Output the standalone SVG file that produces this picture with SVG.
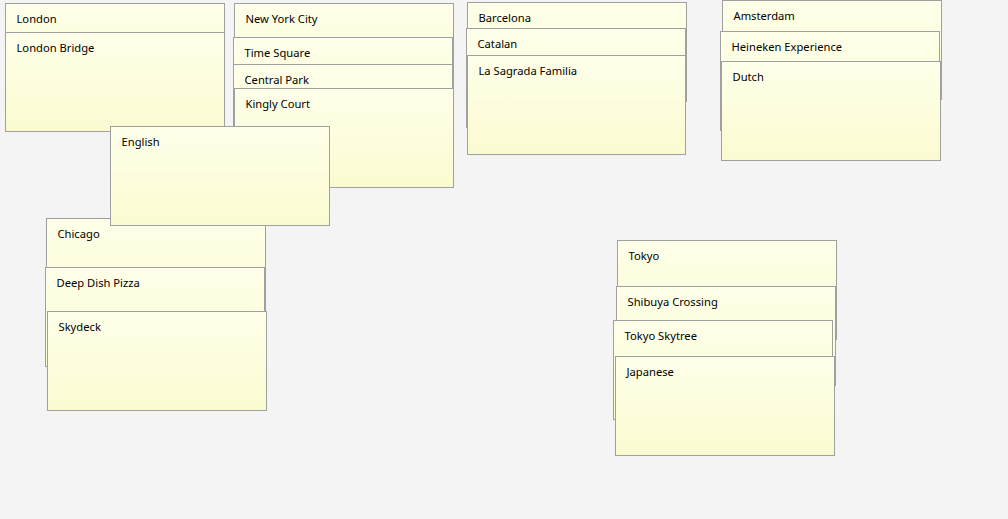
<svg xmlns="http://www.w3.org/2000/svg" width="1008" height="519" viewBox="0 0 1008 519">
<defs>
<linearGradient id="paper" x1="0" y1="0" x2="0" y2="1">
<stop offset="0" stop-color="#FFFFEA"/>
<stop offset="1" stop-color="#FBFBD1"/>
</linearGradient>
<style>
.n{fill:url(#paper);stroke:#A0A0A0;stroke-width:1}
.t{font-family:"Noto Sans","Open Sans","DejaVu Sans",sans-serif;font-size:11.2px;fill:#000}
</style>
</defs>
<rect width="1008" height="519" fill="#F4F4F4"/>
<g id="london"><rect class="n" x="5.5" y="3.5" width="219" height="99"/><text class="t" x="16.5" y="22.5">London</text></g>
<g id="london-bridge"><rect class="n" x="5.5" y="32.5" width="219" height="99"/><text class="t" x="16.5" y="51.5">London Bridge</text></g>
<g id="new-york-city"><rect class="n" x="234.5" y="3.5" width="219" height="99"/><text class="t" x="245.5" y="22.5">New York City</text></g>
<g id="time-square"><rect class="n" x="233.5" y="37.5" width="219" height="99"/><text class="t" x="244.5" y="56.5">Time Square</text></g>
<g id="central-park"><rect class="n" x="233.5" y="64.5" width="219" height="99"/><text class="t" x="244.5" y="83.5">Central Park</text></g>
<g id="kingly-court"><rect class="n" x="234.5" y="88.5" width="219" height="99"/><text class="t" x="245.5" y="107.5">Kingly Court</text></g>
<g id="barcelona"><rect class="n" x="467.5" y="2.5" width="219" height="99"/><text class="t" x="478.5" y="21.5">Barcelona</text></g>
<g id="catalan"><rect class="n" x="466.5" y="28.5" width="219" height="99"/><text class="t" x="477.5" y="47.5">Catalan</text></g>
<g id="la-sagrada-familia"><rect class="n" x="467.5" y="55.5" width="218" height="99"/><text class="t" x="478.5" y="74.5">La Sagrada Familia</text></g>
<g id="amsterdam"><rect class="n" x="722.5" y="0.5" width="219" height="99"/><text class="t" x="733.5" y="19.5">Amsterdam</text></g>
<g id="heineken-experience"><rect class="n" x="720.5" y="31.5" width="219" height="99"/><text class="t" x="731.5" y="50.5">Heineken Experience</text></g>
<g id="dutch"><rect class="n" x="721.5" y="61.5" width="219" height="99"/><text class="t" x="732.5" y="80.5">Dutch</text></g>
<g id="chicago"><rect class="n" x="46.5" y="218.5" width="219" height="99"/><text class="t" x="57.5" y="237.5">Chicago</text></g>
<g id="deep-dish-pizza"><rect class="n" x="45.5" y="267.5" width="219" height="99"/><text class="t" x="56.5" y="286.5">Deep Dish Pizza</text></g>
<g id="skydeck"><rect class="n" x="47.5" y="311.5" width="219" height="99"/><text class="t" x="58.5" y="330.5">Skydeck</text></g>
<g id="english"><rect class="n" x="110.5" y="126.5" width="219" height="99"/><text class="t" x="121.5" y="145.5">English</text></g>
<g id="tokyo"><rect class="n" x="617.5" y="240.5" width="219" height="99"/><text class="t" x="628.5" y="259.5">Tokyo</text></g>
<g id="shibuya-crossing"><rect class="n" x="616.5" y="286.5" width="219" height="99"/><text class="t" x="627.5" y="305.5">Shibuya Crossing</text></g>
<g id="tokyo-skytree"><rect class="n" x="613.5" y="320.5" width="219" height="99"/><text class="t" x="624.5" y="339.5">Tokyo Skytree</text></g>
<g id="japanese"><rect class="n" x="615.5" y="356.5" width="219" height="99"/><text class="t" x="626.5" y="375.5">Japanese</text></g>
</svg>
